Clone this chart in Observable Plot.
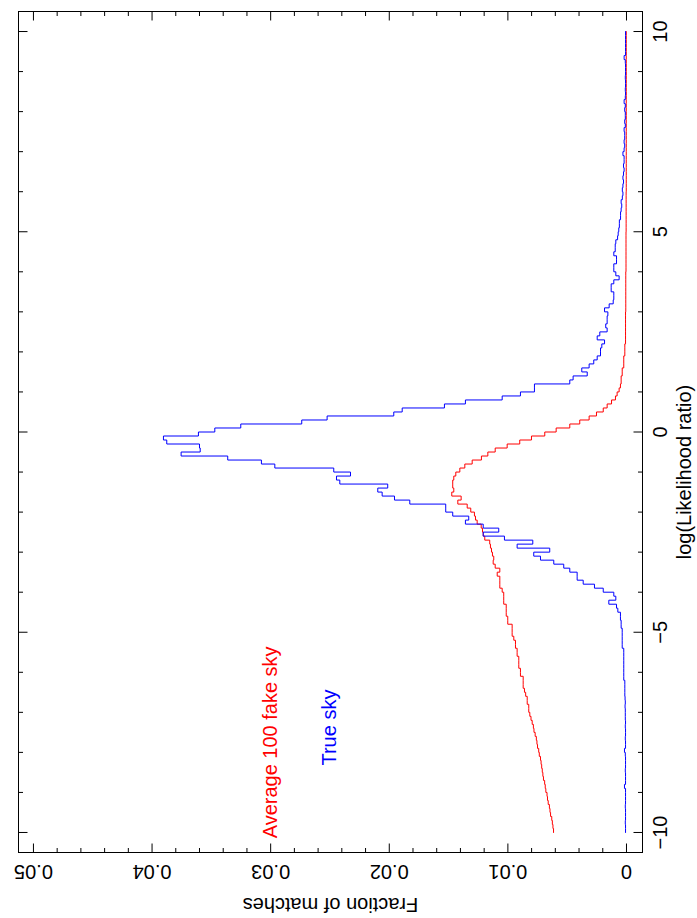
<!DOCTYPE html>
<html><head><meta charset="utf-8">
<script src="https://cdn.jsdelivr.net/npm/d3@7"></script>
<script src="https://cdn.jsdelivr.net/npm/@observablehq/plot@0.6"></script>
<style>body{margin:0;background:#fff;}</style>
</head><body><div id="chart"></div>
<script>
// Histogram bins in log(Likelihood ratio): lower edges, width 0.1, from -10 to 10
const binWidth = 0.1;
const binLow = d3.range(200).map(i => Math.round(-100 + i) / 10);

// Average of 100 fake skies (red), one value per bin, bins from -10.0 upward
const fakeSky = [
0.00615,0.00620,0.00625,0.00630,0.00640,0.00645,0.00650,0.00660,0.00666,0.00670,
0.00680,0.00685,0.00690,0.00700,0.00705,0.00710,0.00715,0.00720,0.00725,0.00735,
0.00740,0.00750,0.00755,0.00760,0.00770,0.00780,0.00785,0.00795,0.00805,0.00815,
0.00824,0.00824,0.00837,0.00837,0.00850,0.00860,0.00871,0.00871,0.00871,0.00894,
0.00894,0.00908,0.00908,0.00908,0.00922,0.00922,0.00936,0.00936,0.00950,0.00964,
0.00964,0.00964,0.01001,0.01001,0.01014,0.01014,0.01014,0.01035,0.01035,0.01035,
0.01048,0.01068,0.01068,0.01068,0.01090,0.01068,0.01107,0.01124,0.01119,0.01130,
0.01138,0.01147,0.01153,0.01195,0.01208,0.01214,0.01225,0.01259,0.01273,0.01282,
0.01313,0.01343,0.01422,0.01394,0.01473,0.01456,0.01465,0.01465,0.01456,0.01439,
0.01405,0.01363,0.01301,0.01223,0.01169,0.01107,0.01006,0.00900,0.00801,0.00689,
0.00593,0.00478,0.00394,0.00315,0.00253,0.00196,0.00163,0.00126,0.00093,0.00079,
0.00062,0.00051,0.00045,0.00045,0.00036,0.00036,0.00023,0.00023,0.00023,0.00014,
0.00014,0.00014,0.00008,0.00008,0.00008,0.00008,0.00008,0.00008,0.00008,0.00008,
0.00006,0.00006,0.00006,0.00006,0.00006,0.00006,0.00006,0.00006,0.00006,0.00006,
0.00004,0.00004,0.00004,0.00004,0.00004,0.00004,0.00004,0.00004,0.00004,0.00004,
0.00003,0.00003,0.00003,0.00003,0.00003,0.00003,0.00003,0.00003,0.00003,0.00003,
0.00002,0.00002,0.00002,0.00002,0.00002,0.00002,0.00002,0.00002,0.00002,0.00002,
0.00002,0.00002,0.00002,0.00002,0.00002,0.00002,0.00002,0.00002,0.00002,0.00002,
0.00002,0.00002,0.00002,0.00002,0.00002,0.00002,0.00002,0.00002,0.00002,0.00002,
0.00002,0.00002,0.00002,0.00002,0.00002,0.00002,0.00002,0.00002,0.00002,0.00002
];

// True sky (blue), one value per bin, bins from -10.0 upward
const trueSky = [
0.00008,0.00008,0.00010,0.00008,0.00008,0.00008,0.00010,0.00008,0.00008,0.00008,
0.00008,0.00017,0.00008,0.00008,0.00008,0.00010,0.00008,0.00008,0.00008,0.00010,
0.00017,0.00008,0.00008,0.00010,0.00008,0.00008,0.00010,0.00008,0.00010,0.00010,
0.00010,0.00012,0.00010,0.00012,0.00014,0.00014,0.00014,0.00014,0.00023,0.00023,
0.00023,0.00023,0.00023,0.00023,0.00023,0.00023,0.00036,0.00036,0.00036,0.00036,
0.00036,0.00045,0.00045,0.00051,0.00051,0.00073,0.00084,0.00149,0.00090,0.00107,
0.00196,0.00270,0.00365,0.00416,0.00416,0.00478,0.00529,0.00613,0.00725,0.00782,
0.00647,0.00922,0.00790,0.01029,0.01208,0.01077,0.01208,0.01358,0.01330,0.01465,
0.01524,0.01524,0.01827,0.01956,0.02060,0.02097,0.02013,0.02417,0.02445,0.02327,
0.02468,0.02965,0.03078,0.03362,0.03755,0.03594,0.03600,0.03876,0.03904,0.03609,
0.03471,0.03252,0.02738,0.02524,0.01962,0.01891,0.01535,0.01358,0.01048,0.00894,
0.00776,0.00776,0.00478,0.00450,0.00331,0.00377,0.00315,0.00276,0.00247,0.00219,
0.00219,0.00208,0.00185,0.00247,0.00225,0.00163,0.00175,0.00163,0.00163,0.00157,
0.00185,0.00146,0.00112,0.00107,0.00107,0.00129,0.00129,0.00107,0.00062,0.00090,
0.00107,0.00107,0.00084,0.00084,0.00107,0.00095,0.00095,0.00090,0.00075,0.00070,
0.00065,0.00060,0.00060,0.00050,0.00050,0.00045,0.00040,0.00045,0.00035,0.00030,
0.00035,0.00030,0.00025,0.00030,0.00025,0.00020,0.00025,0.00020,0.00020,0.00030,
0.00020,0.00015,0.00020,0.00015,0.00015,0.00020,0.00010,0.00015,0.00010,0.00010,
0.00015,0.00010,0.00020,0.00010,0.00008,0.00010,0.00008,0.00008,0.00010,0.00008,
0.00008,0.00008,0.00010,0.00020,0.00008,0.00008,0.00008,0.00008,0.00008,0.00008
];

// Axis ticks and labels
const fractionTicks = [0, 0.01, 0.02, 0.03, 0.04, 0.05];
const fractionTickLabels = ["0", "0.01", "0.02", "0.03", "0.04", "0.05"];
const fractionMinorTicks = [0.002,0.004,0.006,0.008,0.012,0.014,0.016,0.018,0.022,0.024,0.026,0.028,0.032,0.034,0.036,0.038,0.042,0.044,0.046,0.048];
const llrTicks = [-10, -5, 0, 5, 10];
const llrTickLabels = ["\u221210", "\u22125", "0", "5", "10"];
const llrMinorTicks = [-9,-8,-7,-6,-4,-3,-2,-1,1,2,3,4,6,7,8,9];
const xTitle = "Fraction of matches";
const yTitle = "log(Likelihood ratio)";
const seriesNames = ["Average 100 fake sky", "True sky"];

const fracDomain = [0.05126, -0.00135];
const llrDomain = [-10.5, 10.5];

function outline(values) {
  const pts = [];
  values.forEach((v, i) => {
    pts.push({f: v, l: binLow[i]});
    pts.push({f: v, l: binLow[i] + binWidth});
  });
  return pts;
}

const tickShape = {draw(context, l) { context.moveTo(0, 0); context.lineTo(0, -l); }};
const FONT = "'Liberation Sans', Arial, Helvetica, sans-serif";
const tk = (data, o) => Plot.vector(data, {shape: tickShape, anchor: "start", stroke: "#000", strokeWidth: 1, strokeLinecap: "butt", ...o});

const chart = Plot.plot({
  width: 697, height: 918,
  marginLeft: 18, marginRight: 55, marginTop: 11, marginBottom: 66,
  style: {fontFamily: FONT, fontSize: "20px", background: "#fff", color: "#000"},
  x: {domain: fracDomain, axis: null},
  y: {domain: llrDomain, axis: null},
  marks: [
    Plot.line(outline(fakeSky), {x: "f", y: "l", stroke: "#ff0000", strokeWidth: 1}),
    Plot.line(outline(trueSky), {x: "f", y: "l", stroke: "#0000ff", strokeWidth: 1}),
    Plot.frame({stroke: "#000", strokeWidth: 1}),
    // fraction axis ticks (bottom & top)
    tk(fractionTicks, {x: d => d, y: llrDomain[0], length: 9, rotate: 0}),
    tk(fractionMinorTicks, {x: d => d, y: llrDomain[0], length: 4.5, rotate: 0}),
    tk(fractionTicks, {x: d => d, y: llrDomain[1], length: 9, rotate: 180}),
    tk(fractionMinorTicks, {x: d => d, y: llrDomain[1], length: 4.5, rotate: 180}),
    // llr axis ticks (left & right)
    tk(llrTicks, {y: d => d, x: fracDomain[0], length: 9, rotate: 90}),
    tk(llrMinorTicks, {y: d => d, x: fracDomain[0], length: 4.5, rotate: 90}),
    tk(llrTicks, {y: d => d, x: fracDomain[1], length: 9, rotate: -90}),
    tk(llrMinorTicks, {y: d => d, x: fracDomain[1], length: 4.5, rotate: -90}),
    // tick labels
    Plot.text(fractionTicks, {x: d => d, y: llrDomain[0], text: (d, i) => fractionTickLabels[i], rotate: 180, dy: 19, fontSize: 20, fill: "#000"}),
    Plot.text(llrTicks, {y: d => d, x: fracDomain[1], text: (d, i) => llrTickLabels[i], rotate: -90, dx: 18, fontSize: 20, fill: "#000"}),
    // axis titles
    Plot.text([xTitle], {frameAnchor: "bottom", rotate: 180, dy: 45, fontSize: 20, fill: "#000"}),
    Plot.text([yTitle], {x: fracDomain[1], y: -1.0, rotate: -90, dx: 42, fontSize: 20, fill: "#000"}),
    // series labels
    Plot.text([seriesNames[0]], {x: 0.0300, y: -7.75, rotate: -90, fontSize: 20, fill: "#ff0000"}),
    Plot.text([seriesNames[1]], {x: 0.02504, y: -7.38, rotate: -90, fontSize: 20, fill: "#0000ff"})
  ]
});
document.getElementById("chart").appendChild(chart);
</script>
</body></html>
